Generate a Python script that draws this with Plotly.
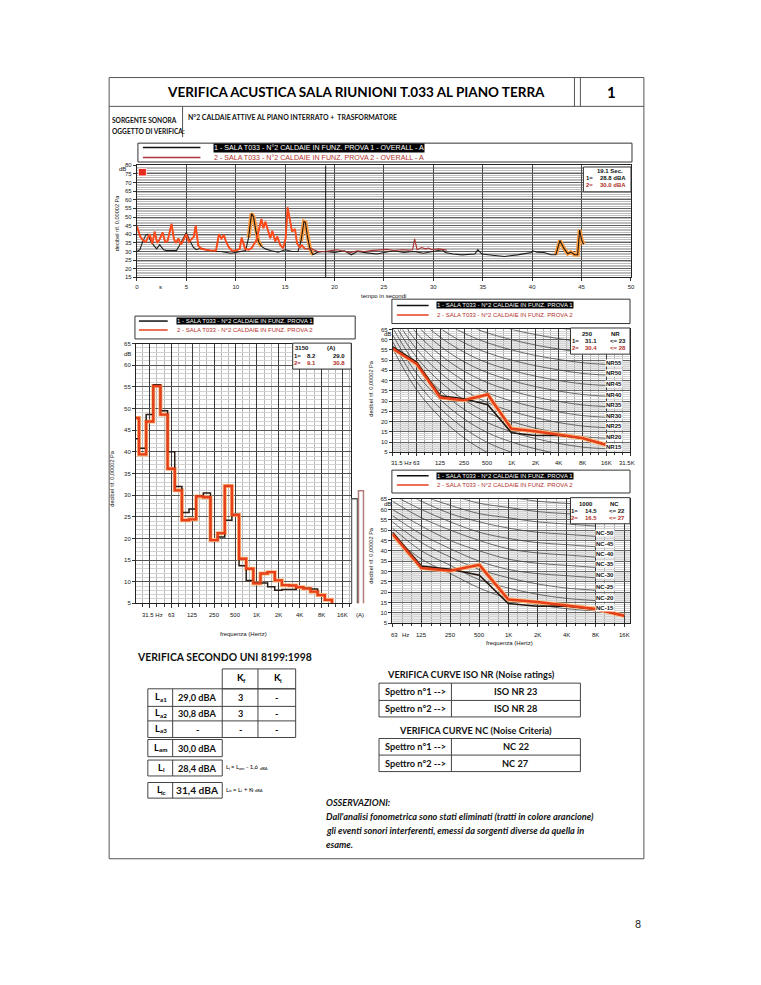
import numpy as np
import plotly.graph_objects as go

# ======================= DATA =======================
TITLE = "VERIFICA ACUSTICA SALA RIUNIONI T.033 AL PIANO TERRA"
SHEET_NO = "1"
PAGE_NO = "8"
SOURCE_LABEL = ["SORGENTE SONORA", "OGGETTO DI VERIFICA:"]
SOURCE_TEXT = "N°2 CALDAIE ATTIVE AL PIANO INTERRATO +  TRASFORMATORE"
SERIES_NAMES = ["1 - SALA T033 - N°2 CALDAIE IN FUNZ. PROVA 1",
                "2 - SALA T033 - N°2 CALDAIE IN FUNZ. PROVA 2"]
OVERALL_SUFFIX = " - OVERALL - A"

# time history (s, dBA)
TIME_1 = [0, 0.3, 0.6, 0.9, 1.1, 1.4, 1.7, 2.0, 2.3, 2.7, 3.0, 3.5, 4.0, 4.3, 4.7,
          5.0, 5.3, 5.7, 6.0, 6.5, 7.0, 7.5, 8.0, 8.5, 9.0, 9.5, 10.0, 10.5, 11.0, 11.3,
          11.6, 11.8, 12.05, 12.3, 12.6, 13.0, 13.6, 14.3, 15.0, 15.7, 16.3, 16.6, 16.9, 17.05, 17.25,
          17.5, 17.8, 18.3, 19.0, 20.0, 21.0, 21.7, 22.3, 23.3, 24.3, 25.0, 26.0, 27.0, 28.0, 29.0,
          30.0, 30.9, 31.2, 32.0, 32.9, 34.2, 34.5, 34.9, 36.2, 37.2, 38.5, 39.9, 40.05, 40.5, 41.2,
          41.9, 42.4, 42.8, 43.2, 43.6, 43.9, 44.3, 44.6, 44.8, 45.0, 45.2]
LEQ_1 = [30.0, 31.0, 36.0, 39.5, 40.0, 36.0, 33.5, 31.5, 34.0, 31.0, 30.5, 30.5, 30.5, 33.5, 37.5,
         41.0, 37.0, 32.5, 31.0, 32.0, 31.0, 30.5, 30.0, 30.0, 29.5, 29.0, 29.5, 30.0, 30.5, 38.0,
         52.0, 50.0, 41.5, 35.8, 32.9, 31.5, 30.4, 29.6, 31.0, 30.0, 30.0, 35.8, 47.3, 46.9, 38.7,
         31.9, 28.1, 29.6, 30.0, 29.4, 30.4, 28.1, 30.0, 29.2, 28.5, 29.4, 30.4, 29.4, 30.0, 29.0,
         30.0, 31.0, 29.4, 28.5, 28.0, 28.5, 31.0, 28.5, 27.7, 27.1, 28.0, 29.4, 30.4, 29.6, 29.4,
         28.1, 28.1, 36.3, 31.9, 28.7, 29.6, 28.1, 28.1, 42.5, 36.7, 34.2]
TIME_2 = [0, 0.15, 0.35, 0.6, 0.9, 1.1, 1.3, 1.55, 1.8, 2.05, 2.25, 2.6, 2.85, 3.1, 3.5,
          3.75, 3.95, 4.2, 4.45, 4.7, 5.0, 5.25, 5.5, 5.75, 5.95, 6.2, 6.5, 7.0, 7.5, 8.0,
          8.3, 8.55, 8.8, 9.0, 9.3, 9.6, 10.0, 10.4, 10.6, 10.95, 11.3, 11.6, 12.1, 12.6, 12.8,
          13.0, 13.3, 13.5, 13.7, 14.0, 14.2, 14.5, 14.8, 15.05, 15.25, 15.5, 15.7, 16.0, 16.2, 16.5,
          16.7, 17.0, 17.7, 18.3, 19.0, 19.7, 20.3, 21.0, 21.7, 22.3, 23.0, 23.7, 24.5, 25.3, 26.0,
          26.8, 27.5, 27.9, 28.1, 28.35, 28.8, 29.2, 29.5, 29.85, 30.5, 31.2, 31.35]
LEQ_2 = [44.5, 42.0, 38.5, 36.5, 35.5, 38.0, 40.0, 34.5, 41.5, 35.0, 36.5, 41.0, 35.5, 36.0, 46.0,
         37.0, 35.0, 37.5, 34.0, 36.5, 40.0, 35.5, 37.0, 38.5, 45.0, 33.5, 31.5, 31.0, 30.5, 30.5,
         40.0, 37.5, 39.5, 36.0, 32.5, 30.5, 30.5, 31.5, 38.0, 31.5, 31.0, 31.9, 36.7, 48.8, 43.5,
         47.3, 40.6, 37.7, 41.9, 35.8, 38.7, 33.8, 31.9, 37.7, 55.6, 47.3, 41.5, 43.0, 34.8, 32.3,
         33.5, 31.5, 31.5, 30.0, 30.0, 30.5, 31.0, 30.0, 29.5, 30.4, 30.0, 30.5, 30.8, 31.2, 30.6,
         31.0, 30.8, 31.0, 37.3, 31.0, 32.3, 31.5, 32.0, 31.0, 31.5, 31.0, 30.8]
ELIMINATED_1 = [[11.1, 12.6], [16.5, 17.8], [42.4, 45.2]]
ELIMINATED_2 = [[0.0, 17.0]]
CURSOR_TIME = 19.1
CURSOR_DBA = [28.8, 30.0]
TIME_TICKS = [0, 5, 10, 15, 20, 25, 30, 35, 40, 45, 50]
TIME_Y_TICKS = [15, 20, 25, 30, 35, 40, 45, 50, 55, 60, 65, 70, 75, 80]

# 1/3 octave spectrum (20 Hz ... 12.5 kHz), dB
BANDS_13 = ["20", "25", "31.5", "40", "50", "63", "80", "100", "125", "160", "200", "250",
            "315", "400", "500", "630", "800", "1K", "1.25K", "1.6K", "2K", "2.5K", "3.15K",
            "4K", "5K", "6.3K", "8K", "10K", "12.5K", "16K", "20K"]
SPEC_1 = [43.0, 40.8, 48.6, 55.5, 49.5, 40.0, 32.0, 26.0, 26.8, 29.8, 30.5, 19.7, 20.3, 24.2, 25.5,
          13.7, 10.3, 9.8, 9.7, 8.8, 8.0, 8.2, 8.2, 8.7, 8.5, 8.3, 7.0, 5.8, 4.5]
SPEC_2 = [47.8, 39.4, 47.0, 55.2, 48.6, 36.1, 31.1, 24.2, 24.4, 29.7, 29.5, 19.6, 21.2, 32.1, 25.4,
          15.3, 13.0, 9.6, 11.9, 12.2, 10.3, 9.2, 9.1, 8.7, 8.4, 7.7, 6.9, 5.8, 4.5]
SPEC_A = [29.0, 30.8]
SPEC_LABELS = ["31.5", "63", "125", "250", "500", "1K", "2K", "4K", "8K", "16K"]
SPEC_CURSOR = "3.15K"
SPEC_Y_TICKS = [5, 10, 15, 20, 25, 30, 35, 40, 45, 50, 55, 60, 65]

# octave spectrum (31.5 Hz ... 16 kHz), dB
OCT_BANDS = ["31.5", "63", "125", "250", "500", "1K", "2K", "4K", "8K", "16K", "31.5K"]
OCT_1 = [56.5, 49.0, 32.6, 31.1, 28.2, 14.5, 13.2, 13.3, 11.8, 8.6]
OCT_2 = [55.6, 48.2, 31.7, 30.4, 33.2, 16.5, 15.3, 13.6, 11.9, 8.6]
NR_CURSOR = "250"
NC_CURSOR = "1K"

# ISO NR reference curves, 31.5 Hz ... 16 kHz
NR_INDICES = [0, 5, 10, 15, 20, 25, 30, 35, 40, 45, 50, 55, 60, 65, 70]
NR_TABLE = [
    [55.4, 35.5, 22.0, 12.0, 4.8, 0.0, -3.5, -6.1, -8.0, -8.8],
    [58.8, 39.5, 26.4, 16.7, 9.7, 5.0, 1.6, -1.0, -2.9, -3.7],
    [62.2, 43.4, 30.7, 21.3, 14.5, 10.0, 6.7, 4.2, 2.3, 1.5],
    [65.6, 47.4, 35.1, 26.0, 19.4, 15.0, 11.7, 9.3, 7.5, 6.7],
    [69.0, 51.3, 39.4, 30.6, 24.3, 20.0, 16.8, 14.4, 12.6, 11.8],
    [72.4, 55.3, 43.8, 35.3, 29.2, 25.0, 21.9, 19.5, 17.8, 17.0],
    [75.8, 59.2, 48.1, 39.9, 34.0, 30.0, 27.0, 24.7, 22.9, 22.1],
    [79.2, 63.2, 52.5, 44.6, 38.9, 35.0, 32.0, 29.8, 28.1, 27.3],
    [82.6, 67.1, 56.8, 49.2, 43.8, 40.0, 37.1, 34.9, 33.2, 32.4],
    [86.0, 71.1, 61.2, 53.9, 48.6, 45.0, 42.2, 40.0, 38.4, 37.6],
    [89.5, 75.0, 65.5, 58.5, 53.5, 50.0, 47.3, 45.2, 43.5, 42.7],
    [92.9, 79.0, 69.9, 63.2, 58.4, 55.0, 52.3, 50.3, 48.7, 47.9],
    [96.3, 82.9, 74.2, 67.8, 63.2, 60.0, 57.4, 55.4, 53.8, 53.0],
    [99.7, 86.9, 78.6, 72.5, 68.1, 65.0, 62.5, 60.5, 59.0, 58.2],
    [103.1, 90.8, 82.9, 77.1, 73.0, 70.0, 67.6, 65.7, 64.1, 63.3],
]
NR_RESULT = [23, 28]

# NC reference curves, 63 Hz ... 8 kHz
NC_INDICES = [15, 20, 25, 30, 35, 40, 45, 50, 55, 60, 65]
NC_TABLE = [
    [47, 36, 29, 22, 17, 14, 12, 11],
    [51, 40, 33, 26, 22, 19, 17, 16],
    [54, 44, 37, 31, 27, 24, 22, 21],
    [57, 48, 41, 35, 31, 29, 28, 27],
    [60, 52, 45, 40, 36, 34, 33, 32],
    [64, 56, 50, 45, 41, 39, 38, 37],
    [67, 60, 54, 49, 46, 44, 43, 42],
    [71, 64, 58, 54, 51, 49, 48, 47],
    [74, 67, 62, 58, 56, 54, 53, 52],
    [77, 71, 67, 63, 61, 59, 58, 57],
    [80, 75, 71, 68, 66, 64, 63, 62],
]
NC_RESULT = [22, 27]

# UNI 8199 table
LA_LABELS = ["a1", "a2", "a3"]
LA_VALUES = ["29,0 dBA", "30,8 dBA", "-"]
KF_VALUES = ["3", "3", "-"]
KI_VALUES = ["-", "-", "-"]
LAM_VALUE = "30,0 dBA"
LI_VALUE = "28,4 dBA"
LIC_VALUE = "31,4 dBA"
NOTES = ["OSSERVAZIONI:",
         "Dall'analisi fonometrica sono stati eliminati (tratti in colore arancione)",
         "gli eventi sonori interferenti, emessi da sorgenti diverse da quella in",
         "esame."]

# ======================= HELPERS =======================
W, H = 761, 985
CF = "Liberation Sans, Arial, sans-serif"
DF = "Lato, Open Sans, sans-serif"
RED_TXT = "#b0302a"
RED_LINE = "#e63f1b"
HALO = "#ffb877"

# pixel geometry of the plot areas
SP_X0, SP_X1, SP_R0, SP_R1 = 135, 352, 0.07, 30.2
NR_X0, NR_X1, NR_R1 = 394, 633, 10
NC_X0, NC_X1, NC_R1 = 393.5, 633, 8.2


def X(px):
    return px / W


def Y(py):
    return 1 - py / H


def sp_px(i):
    return SP_X0 + (i - SP_R0) / (SP_R1 - SP_R0) * (SP_X1 - SP_X0)


def nr_px(i):
    return NR_X0 + i / NR_R1 * (NR_X1 - NR_X0)


def nc_px(i):
    return NC_X0 + i / NC_R1 * (NC_X1 - NC_X0)


ann, shp = [], []


def T(x, y, s, size=6, color="#111", anchor="center", family=CF, bg=None, angle=0):
    d = dict(x=X(x), y=Y(y), xref="paper", yref="paper",
             text=s, showarrow=False, xanchor=anchor, yanchor="middle",
             font=dict(size=size, color=color, family=family), textangle=angle,
             borderpad=0)
    if bg:
        d["bgcolor"] = bg
    ann.append(d)


# approximate Lato advance widths (em) for laying out subscripts
CW = {" ": 0.26, ",": 0.24, ".": 0.24, "-": 0.36, "=": 0.58, "+": 0.58, "i": 0.24,
      "l": 0.24, "f": 0.32, "m": 0.83, "c": 0.45, "a": 0.50, "d": 0.55, "L": 0.50,
      "K": 0.66, "B": 0.62, "A": 0.68}


def tw(s, size):
    return sum(CW.get(c, 0.58 if c.isdigit() else (0.64 if c.isupper() else 0.5))
               for c in s) * size


def RUN(x, y, parts, size, bold=False, anchor="left"):
    """text with subscripts, laid out as separate annotations."""
    k = 1.06 if bold else 1.0
    widths = [tw(p, size * (0.68 if sb else 1)) * k for p, sb in parts]
    cur = x - sum(widths) / 2 if anchor == "center" else x
    for (p, sb), w in zip(parts, widths):
        sz = size * (0.68 if sb else 1)
        lead = len(p) - len(p.lstrip(" "))
        txt = p.strip(" ")
        if txt:
            T(cur + lead * CW[" "] * sz * k, y + (0.3 * size if sb else 0),
              ("<b>%s</b>" % txt) if bold else txt, size=sz, family=DF, anchor="left",
              color="#000")
        cur += w


def R(x0, y0, x1, y1, color="#333", w=1, fill=None, layer="above"):
    shp.append(dict(type="rect", xref="paper", yref="paper", x0=X(x0), x1=X(x1),
                    y0=Y(y0), y1=Y(y1), line=dict(color=color, width=w),
                    fillcolor=fill or "rgba(0,0,0,0)", layer=layer))


def L(x0, y0, x1, y1, color="#333", w=1):
    shp.append(dict(type="line", xref="paper", yref="paper", x0=X(x0), x1=X(x1),
                    y0=Y(y0), y1=Y(y1), line=dict(color=color, width=w)))


def ax(**kw):
    base = dict(showline=True, linecolor="#222", linewidth=1, mirror=True,
                zeroline=False, ticks="outside", ticklen=3, tickcolor="#333",
                tickfont=dict(family=CF, size=6, color="#222"), fixedrange=True)
    base.update(kw)
    return base


fig = go.Figure()

# ======================= TIME HISTORY =======================
t1, l1 = np.array(TIME_1), np.array(LEQ_1)
t2, l2 = np.array(TIME_2), np.array(LEQ_2)
for a, b in ELIMINATED_1:
    m = (t1 >= a) & (t1 <= b)
    fig.add_trace(go.Scatter(x=t1[m], y=l1[m], mode="lines", xaxis="x", yaxis="y",
                             line=dict(color="#ff9a3c", width=4), hoverinfo="skip"))
fig.add_trace(go.Scatter(x=t1, y=l1, mode="lines", xaxis="x", yaxis="y",
                         line=dict(color="#1e1a16", width=1.1)))
fig.add_trace(go.Scatter(x=t2, y=l2, mode="lines", xaxis="x", yaxis="y",
                         line=dict(color="#a8302c", width=1.1)))
for a, b in ELIMINATED_2:
    m = (t2 >= a) & (t2 <= b)
    fig.add_trace(go.Scatter(x=t2[m], y=l2[m], mode="lines", xaxis="x", yaxis="y",
                             line=dict(color="#ff4a1a", width=1.9)))
shp.append(dict(type="line", xref="x", yref="y", x0=CURSOR_TIME, x1=CURSOR_TIME,
                y0=15, y1=80, line=dict(color="#111", width=1)))

# ======================= 1/3 OCTAVE SPECTRUM =======================
bi = list(range(len(SPEC_1)))
fig.add_trace(go.Scatter(x=bi, y=SPEC_2, mode="lines", line_shape="hvh", xaxis="x2",
                         yaxis="y2", line=dict(color=HALO, width=4)))
fig.add_trace(go.Scatter(x=bi, y=SPEC_1, mode="lines", line_shape="hvh", xaxis="x2",
                         yaxis="y2", line=dict(color="#2a1c14", width=1.5)))
fig.add_trace(go.Scatter(x=bi, y=SPEC_2, mode="lines", line_shape="hvh", xaxis="x2",
                         yaxis="y2", line=dict(color=RED_LINE, width=2.4)))
fig.add_trace(go.Bar(x=[0.55, 1.45], y=SPEC_A, width=[0.75, 0.7], xaxis="x3", yaxis="y3",
                     marker=dict(color="white",
                                 line=dict(color=["#5a5a5a", "#b27c7c"], width=1.5))))

# ======================= NR =======================
oi = list(range(len(OCT_1)))
for n, row in zip(NR_INDICES, NR_TABLE):
    fig.add_trace(go.Scatter(x=oi, y=row, mode="lines", line_shape="spline",
                             xaxis="x4", yaxis="y4", line=dict(color="#333", width=0.7)))
fig.add_trace(go.Scatter(x=oi, y=OCT_2, mode="lines", xaxis="x4", yaxis="y4",
                         line=dict(color=HALO, width=4.2)))
fig.add_trace(go.Scatter(x=oi, y=OCT_1, mode="lines", xaxis="x4", yaxis="y4",
                         line=dict(color="#22160e", width=1.6)))
fig.add_trace(go.Scatter(x=oi, y=OCT_2, mode="lines", xaxis="x4", yaxis="y4",
                         line=dict(color=RED_LINE, width=2.5)))

# ======================= NC =======================
ci = list(range(len(OCT_1) - 1))
for n, row in zip(NC_INDICES, NC_TABLE):
    fig.add_trace(go.Scatter(x=list(range(len(row))), y=row, mode="lines",
                             line_shape="spline", xaxis="x5", yaxis="y5",
                             line=dict(color="#333", width=0.7)))
fig.add_trace(go.Scatter(x=ci, y=OCT_2[1:], mode="lines", xaxis="x5", yaxis="y5",
                         line=dict(color=HALO, width=4.2)))
fig.add_trace(go.Scatter(x=ci, y=OCT_1[1:], mode="lines", xaxis="x5", yaxis="y5",
                         line=dict(color="#22160e", width=1.6)))
fig.add_trace(go.Scatter(x=ci, y=OCT_2[1:], mode="lines", xaxis="x5", yaxis="y5",
                         line=dict(color=RED_LINE, width=2.5)))

# stripes in NR / NC backgrounds
for lo in [5, 15, 25, 35, 45, 55]:
    for xr, yr, xm in [("x4", "y4", NR_R1), ("x5", "y5", NC_R1)]:
        shp.append(dict(type="rect", xref=xr, yref=yr, x0=0, x1=xm, y0=lo, y1=lo + 5,
                        fillcolor="#e9e9e9", line=dict(width=0), layer="below"))

# ======================= AXES =======================
layout_axes = dict(
    xaxis=ax(domain=[X(136), X(634)], range=[0, 50], anchor="y", tickmode="array",
             tickvals=TIME_TICKS, ticktext=[str(v) for v in TIME_TICKS],
             showgrid=True, gridcolor="#4a4a4a", gridwidth=1),
    yaxis=ax(domain=[Y(276), Y(163.3)], range=[15, 80], anchor="x", tickmode="array",
             tickvals=TIME_Y_TICKS, showgrid=True, gridcolor="#606060",
             minor=dict(dtick=1, showgrid=True, gridcolor="#bdbdbd", gridwidth=1)),
    xaxis2=ax(domain=[X(SP_X0), X(SP_X1)], range=[SP_R0, SP_R1], anchor="y2",
              tickmode="array",
              tickvals=[BANDS_13.index(b) for b in SPEC_LABELS], showticklabels=False,
              showgrid=True, gridcolor="#3a3a3a", ticklen=4,
              minor=dict(tickvals=list(range(len(BANDS_13))), showgrid=True,
                         gridcolor="#b8b8b8", ticks="outside", ticklen=3, tickcolor="#333")),
    yaxis2=ax(domain=[Y(604), Y(342.7)], range=[5, 65], anchor="x2", tickmode="array",
              tickvals=SPEC_Y_TICKS, showgrid=True, gridcolor="#555",
              minor=dict(dtick=1, showgrid=True, gridcolor="#d2d2d2")),
    xaxis3=dict(domain=[X(352), X(367)], range=[0, 2], anchor="y3", visible=False,
                fixedrange=True),
    yaxis3=dict(domain=[Y(604), Y(342.7)], range=[5, 65], anchor="x3", visible=False,
                fixedrange=True),
    xaxis4=ax(domain=[X(NR_X0), X(NR_X1)], range=[0, NR_R1], anchor="y4", tickmode="array",
              tickvals=list(range(11)), showticklabels=False, showgrid=True,
              gridcolor="#3a3a3a",
              minor=dict(dtick=1 / 3, tick0=0, showgrid=True, gridcolor="#a8a8a8",
                         ticks="outside", ticklen=2, tickcolor="#333")),
    yaxis4=ax(domain=[Y(452), Y(328.4)], range=[5, 65], anchor="x4", tickmode="array",
              tickvals=SPEC_Y_TICKS, showgrid=True, gridcolor="#666",
              minor=dict(dtick=1, showgrid=True, gridcolor="#d3d3d3")),
    xaxis5=ax(domain=[X(NC_X0), X(NC_X1)], range=[0, NC_R1], anchor="y5", tickmode="array",
              tickvals=list(range(9)), showticklabels=False, showgrid=True,
              gridcolor="#3a3a3a",
              minor=dict(dtick=1 / 3, tick0=0, showgrid=True, gridcolor="#a8a8a8",
                         ticks="outside", ticklen=2, tickcolor="#333")),
    yaxis5=ax(domain=[Y(624), Y(499.2)], range=[5, 65], anchor="x5", tickmode="array",
              tickvals=SPEC_Y_TICKS, showgrid=True, gridcolor="#666",
              minor=dict(dtick=1, showgrid=True, gridcolor="#d3d3d3")),
)

# ======================= PAGE FRAME & HEADER =======================
R(108, 75, 647, 861, color="#555", w=1)
L(108, 104, 647, 104, color="#555")
L(577, 75, 577, 104, color="#555")
L(583, 75, 583, 104, color="#555")
L(182, 104, 182, 135, color="#555")
T(357, 90, "<b>" + TITLE + "</b>", size=13.5, family=DF, color="#000")
T(614, 90, "<b>" + SHEET_NO + "</b>", size=15, family=DF, color="#000")
T(110, 117.5, "<b>" + SOURCE_LABEL[0] + "</b>", size=6.6, family=DF, anchor="left")
T(110, 128.5, "<b>" + SOURCE_LABEL[1] + "</b>", size=6.6, family=DF, anchor="left")
T(186, 115, "<b>" + SOURCE_TEXT + "</b>", size=6.9, family=DF, anchor="left")

# ======================= TIME CHART DECOR =======================
R(137, 141, 635, 160, color="#333")
L(142, 145.5, 200, 145.5, color="#111", w=1.5)
L(142, 155.5, 200, 155.5, color="#b0363a", w=1.5)
T(213, 145.5, SERIES_NAMES[0] + OVERALL_SUFFIX, size=7.1, color="white", anchor="left",
  bg="#000")
T(213, 155.5, SERIES_NAMES[1] + OVERALL_SUFFIX, size=7.1, color=RED_TXT, anchor="left")
R(586, 165, 634, 190, color="#333", fill="white")
T(613, 169.5, "<b>%s Sec.</b>" % CURSOR_TIME, size=6)
T(588, 176, "<b>1=</b>", size=6, anchor="left")
T(630, 176, "<b>%.1f dBA</b>" % CURSOR_DBA[0], size=6, anchor="right")
T(588, 183, "<b>2=</b>", size=6, anchor="left", color=RED_TXT)
T(630, 183, "<b>%.1f dBA</b>" % CURSOR_DBA[1], size=6, anchor="right", color=RED_TXT)
R(137.5, 166.5, 145.5, 174, color="#ffffff", w=0.8, fill="#e62a20")
T(121.5, 167.5, "dB", size=6)
T(160, 285.5, "s", size=6)
T(385, 295, "tempo in secondi", size=6)
T(115.5, 221, "decibel rif. 0,00002 Pa", size=5.6, angle=-90)

# ======================= SPECTRUM DECOR =======================
R(134, 315, 356, 338, color="#333")
L(138, 320, 167, 320, color="#111", w=1.5)
L(138, 329, 167, 329, color=RED_LINE, w=1.5)
T(175, 320, SERIES_NAMES[0], size=6, color="white", anchor="left", bg="#000")
T(175, 329, SERIES_NAMES[1], size=6, color=RED_TXT, anchor="left")
ci_s = BANDS_13.index(SPEC_CURSOR)
R(293, 342.2, 352, 368.3, color="#333", fill="white")
T(302, 347.5, "<b>3150</b>", size=6)
T(332, 347.5, "<b>(A)</b>", size=6)
T(298, 355, "<b>1=</b>", size=6)
T(312, 355, "<b>%.1f</b>" % SPEC_1[ci_s], size=6)
T(340, 355, "<b>%.1f</b>" % SPEC_A[0], size=6)
T(298, 362.3, "<b>2=</b>", size=6, color=RED_TXT)
T(312, 362.3, "<b>%.1f</b>" % SPEC_2[ci_s], size=6, color=RED_TXT)
T(340, 362.3, "<b>%.1f</b>" % SPEC_A[1], size=6, color=RED_TXT)
T(126, 353, "dB", size=6)
for lab in SPEC_LABELS:
    if lab == "31.5":
        T(152, 616, "31.5 Hz", size=6)
    else:
        T(sp_px(BANDS_13.index(lab)), 616, lab, size=6)
T(361, 616, "(A)", size=6)
T(243, 634.5, "frequenza (Hertz)", size=6)
T(110.5, 478, "decibel rif. 0,00002 Pa", size=5.6, angle=-90)

# ======================= NR DECOR =======================
R(393, 298, 633, 322.5, color="#333")
L(398, 304.3, 430, 304.3, color="#111", w=1.5)
L(398, 314, 430, 314, color=RED_LINE, w=1.5)
T(437, 304.3, SERIES_NAMES[0], size=6, color="white", anchor="left", bg="#000")
T(437, 314, SERIES_NAMES[1], size=6, color=RED_TXT, anchor="left")
for n, row in zip(NR_INDICES, NR_TABLE):
    if 15 <= n <= 55:
        T(617, 452 - (row[8] - 5) * 2.06, "<b>NR%d</b>" % n, size=6, bg="white")
ni = OCT_BANDS.index(NR_CURSOR)
R(573, 327, 633, 353.3, color="#333", fill="white")
T(590, 333, "<b>%s</b>" % NR_CURSOR, size=6)
T(618, 333, "<b>NR</b>", size=6)
T(578.5, 339.7, "<b>1=</b>", size=6)
T(593.5, 339.7, "<b>%.1f</b>" % OCT_1[ni], size=6)
T(620.5, 339.7, "<b>&lt;= %d</b>" % NR_RESULT[0], size=6)
T(578.5, 347.3, "<b>2=</b>", size=6, color=RED_TXT)
T(593.5, 347.3, "<b>%.1f</b>" % OCT_2[ni], size=6, color=RED_TXT)
T(620.5, 347.3, "<b>&lt;= %d</b>" % NR_RESULT[1], size=6, color=RED_TXT)
T(388.5, 333, "dB", size=6)
for k, lab in enumerate(OCT_BANDS):
    if k == 0:
        T(402.5, 463, "31.5 Hz", size=6)
    elif k == len(OCT_BANDS) - 1:
        T(630, 463, lab, size=6)
    else:
        T(nr_px(k), 463, lab, size=6)
T(372, 388, "decibel rif. 0,00002 Pa", size=5.6, angle=-90)

# ======================= NC DECOR =======================
R(393, 470, 633, 493, color="#333")
L(398, 475.7, 430, 475.7, color="#111", w=1.5)
L(398, 485, 430, 485, color=RED_LINE, w=1.5)
T(437, 475.7, SERIES_NAMES[0], size=6, color="white", anchor="left", bg="#000")
T(437, 485, SERIES_NAMES[1], size=6, color=RED_TXT, anchor="left")
for n, row in zip(NC_INDICES, NC_TABLE):
    if n <= 50:
        T(608, 624 - (row[7] + 1.4 - 5) * 2.08, "<b>NC-%d</b>" % n, size=6, bg="white")
ki = OCT_BANDS.index(NC_CURSOR)
R(573, 497.7, 633, 524, color="#333", fill="white")
T(588.5, 503.7, "<b>1000</b>", size=6)
T(617, 503.7, "<b>NC</b>", size=6)
T(577, 510.7, "<b>1=</b>", size=6)
T(593.5, 510.7, "<b>%.1f</b>" % OCT_1[ki], size=6)
T(620, 510.7, "<b>&lt;= %d</b>" % NC_RESULT[0], size=6)
T(577, 517.7, "<b>2=</b>", size=6, color=RED_TXT)
T(593.5, 517.7, "<b>%.1f</b>" % OCT_2[ki], size=6, color=RED_TXT)
T(620, 517.7, "<b>&lt;= %d</b>" % NC_RESULT[1], size=6, color=RED_TXT)
T(388.5, 504.5, "dB", size=6)
for k, lab in enumerate(OCT_BANDS[1:-1]):
    if k == 0:
        T(395.5, 636, lab, size=6)
        T(407, 636, "Hz", size=6)
    else:
        T(nc_px(k), 636, lab, size=6)
T(512, 644, "frequenza (Hertz)", size=6)
T(372, 556, "decibel rif. 0,00002 Pa", size=5.6, angle=-90)

# ======================= TABLES =======================
TC = "#444"
T(135, 658, "<b>VERIFICA SECONDO UNI 8199:1998</b>", size=10.4, family=DF, anchor="left")
cx = [147, 172, 222, 258, 296]
R(222, 670, 296, 690, color=TC)
L(258, 670, 258, 690, color=TC)
RUN(240, 679, [("K", False), ("f", True)], 9.5, bold=True, anchor="center")
RUN(277, 679, [("K", False), ("i", True)], 9.5, bold=True, anchor="center")
ry = [690, 707.7, 722.3, 739]
R(cx[0], ry[0], cx[-1], ry[-1], color=TC)
for yy in ry[1:-1]:
    L(cx[0], yy, cx[-1], yy, color=TC)
for xx in cx[1:-1]:
    L(xx, ry[0], xx, ry[-1], color=TC)
for k in range(3):
    yc = (ry[k] + ry[k + 1]) / 2
    RUN(159.5, yc - 1, [("L", False), (LA_LABELS[k], True)], 9.2, bold=True,
        anchor="center")
    T(197, yc, "<b>%s</b>" % LA_VALUES[k], size=9.2, family=DF)
    T(240, yc, "<b>%s</b>" % KF_VALUES[k], size=9.2, family=DF)
    T(277, yc, "<b>%s</b>" % KI_VALUES[k], size=9.2, family=DF)
for (y0, y1, lab, val, sz) in [(741, 758.3, "am", LAM_VALUE, 9.2),
                               (761.7, 777.7, "i", LI_VALUE, 9.2),
                               (784.3, 800, "ic", LIC_VALUE, 10.2)]:
    R(147, y0, 222, y1, color=TC)
    L(172, y0, 172, y1, color=TC)
    RUN(159.5, (y0 + y1) / 2 - 1, [("L", False), (lab, True)], 9.2, bold=True,
        anchor="center")
    T(197, (y0 + y1) / 2, "<b>%s</b>" % val, size=sz, family=DF)
RUN(224.5, 768.5, [("L", False), ("i", True), (" = L", False), ("am", True),
                   (" - 1,6 ", False), ("dBA", True)], 6)
RUN(224.5, 791, [("L", False), ("ic", True), (" = L", False), ("i", True),
                 (" + K", False), ("f", True), (" ", False), ("dBA", True)], 6)

T(473, 676, "<b>VERIFICA CURVE ISO NR (Noise ratings)</b>", size=9.2, family=DF)
T(477, 732, "<b>VERIFICA CURVE NC (Noise Criteria)</b>", size=9.2, family=DF)
for rows, res, pref in [([684.3, 701.7, 718.3], NR_RESULT, "ISO NR "),
                        ([740, 756.7, 773.3], NC_RESULT, "NC ")]:
    R(380, rows[0], 583, rows[-1], color=TC)
    L(380, rows[1], 583, rows[1], color=TC)
    L(453, rows[0], 453, rows[-1], color=TC)
    for k in range(2):
        yc = (rows[k] + rows[k + 1]) / 2
        T(416.5, yc, "<b>Spettro n°%d --&gt;</b>" % (k + 1), size=9.2, family=DF)
        T(518, yc, "<b>%s%d</b>" % (pref, res[k]), size=9.2, family=DF)

for k, (s, yy) in enumerate(zip(NOTES, [804, 818.5, 832.5, 846.5])):
    T(326, yy, "<b><i>%s</i></b>" % s, size=9.2, family=DF, anchor="left")

T(641, 927, PAGE_NO, size=10.5, family=DF, color="#222")

fig.update_layout(
    width=W, height=H, margin=dict(l=0, r=0, t=0, b=0, pad=0),
    paper_bgcolor="white", plot_bgcolor="white", showlegend=False,
    annotations=ann, shapes=shp, bargap=0, **layout_axes)

fig.write_html("out.html", config={"displayModeBar": False},
               post_script="document.body.style.margin='0';")
